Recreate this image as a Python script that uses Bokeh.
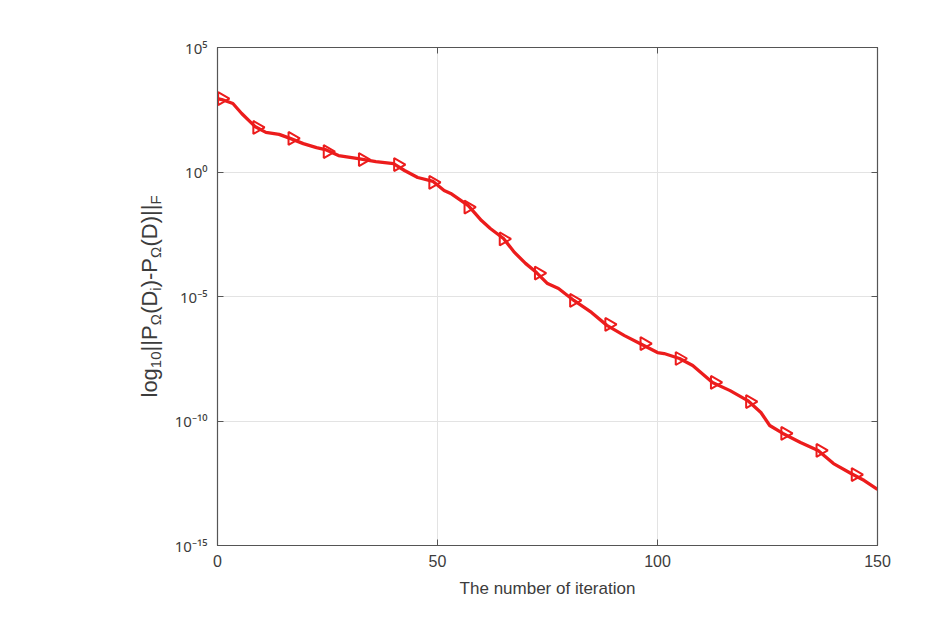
import numpy as np
from bokeh.plotting import figure
from bokeh.layouts import row
from bokeh.models import LinearAxis, FixedTicker, CustomJSTickFormatter
from bokeh.core.properties import value
from bokeh.embed import file_html
from bokeh.resources import INLINE

# ---- data (values are log10 of the error) ----
line_iter = [0, 1, 3.5, 5.5, 8.5, 11, 14, 16.5, 19.5, 22.5, 24.5, 27.5, 32, 36, 40,
             42.5, 45.5, 49, 51.5, 53, 57, 60, 62, 65, 67.5, 70, 72.5, 75, 77.5, 81,
             85, 88.5, 92.5, 96, 100, 101.5, 105, 108, 112.5, 116.5, 120.5, 123.5,
             125.5, 128.5, 132.5, 136.5, 140, 144, 147, 150]
line_log_err = [2.95, 2.91, 2.75, 2.35, 1.83, 1.59, 1.51, 1.35, 1.14, 0.98, 0.90, 0.66,
                0.54, 0.42, 0.34, 0.06, -0.22, -0.38, -0.74, -0.86, -1.35, -1.95, -2.27,
                -2.67, -3.23, -3.67, -4.04, -4.48, -4.68, -5.16, -5.64, -6.16, -6.57,
                -6.89, -7.25, -7.29, -7.49, -7.77, -8.45, -8.78, -9.18, -9.66, -10.18,
                -10.50, -10.86, -11.18, -11.71, -12.11, -12.39, -12.75]
marker_iter = [1, 9, 17, 25, 33, 41, 49, 57, 65, 73, 81, 89, 97, 105, 113, 121, 129, 137, 145]
marker_log_err = [2.95, 1.79, 1.35, 0.82, 0.50, 0.30, -0.42, -1.41, -2.69, -4.06, -5.16,
                  -6.12, -6.89, -7.49, -8.45, -9.22, -10.50, -11.18, -12.15]
x_ticks = [0, 50, 100, 150]
y_ticks = [-15, -10, -5, 0, 5]
y_tick_labels = ["10\u207b\u00b9\u2075", "10\u207b\u00b9\u2070", "10\u207b\u2075", "10\u2070", "10\u2075"]
y_label_parts = ["log", "10", "||P", "\u03a9", "(D", "i", ")-P", "\u03a9", "(D)||", "F"]
y_label_is_sub = [False, True, False, True, False, True, False, True, False, True]

RED = "#ec1c1c"
AX = "#555555"
TXT = "#3c3c3c"
FONT = "Liberation Sans"
blank = CustomJSTickFormatter(code="return ''")

LEFT_W = 165
TOP_B, BOT_B, FRAME_H = 47, 74, 498
PX_PER_UNIT = FRAME_H / 20.0

# ---- left panel: rotated y label with subscripts ----
pl = figure(width=LEFT_W, height=619, frame_width=LEFT_W, frame_height=FRAME_H, title=None,
            x_range=(0, LEFT_W), y_range=(-15, 5),
            min_border_left=0, min_border_right=0, min_border_top=TOP_B, min_border_bottom=BOT_B,
            x_axis_location=None, y_axis_location=None,
            output_backend="svg", toolbar_location=None)
pl.outline_line_color = None
pl.xgrid.visible = False
pl.ygrid.visible = False
pl.background_fill_color = "white"
pl.border_fill_color = "white"

F, S = 22, 15
widths = {"log": 1.334, "10": 1.112, "||P": 1.187, "\u03a9": 0.768, "(D": 1.055,
          "i": 0.222, ")-P": 1.333, "(D)||": 1.908, "F": 0.611}
base_x = 149
ypix = 397  # canvas y of the label start
xs, ys, txts, sizes = [], [], [], []
for part, sub in zip(y_label_parts, y_label_is_sub):
    size = S if sub else F
    xs.append(base_x + (6 if sub else 0))
    ys.append(5 - (ypix - TOP_B) / PX_PER_UNIT)
    txts.append(part)
    sizes.append(f"{size}px")
    ypix -= widths[part] * size
pl.text(x=xs, y=ys, text=txts, angle=np.pi / 2, text_align="left", text_baseline="alphabetic",
        text_font=value(FONT), text_font_size=sizes, text_color=TXT)

# ---- main plot ----
p = figure(width=951 - LEFT_W, height=619, frame_width=660, frame_height=FRAME_H,
           x_range=(0, 150), y_range=(-15, 5),
           min_border_left=217 - LEFT_W, min_border_right=74, min_border_top=TOP_B,
           min_border_bottom=BOT_B, output_backend="svg", toolbar_location=None)
p.background_fill_color = "white"
p.border_fill_color = "white"
p.outline_line_color = AX
p.outline_line_width = 1.2

p.line(line_iter, line_log_err, color=RED, line_width=3.3)
p.scatter(marker_iter, marker_log_err, marker="triangle", angle=-np.pi / 2,
          size=13, fill_color=None, line_color=RED, line_width=2)

for ax in (p.xaxis[0], p.yaxis[0]):
    ax.major_tick_in = 6
    ax.major_tick_out = 0
    ax.minor_tick_line_color = None
    ax.axis_line_color = AX
    ax.major_tick_line_color = AX
    ax.major_label_text_font = FONT
    ax.major_label_text_color = TXT
    ax.major_label_text_font_size = "16px"

p.xaxis.ticker = FixedTicker(ticks=x_ticks)
p.yaxis.ticker = FixedTicker(ticks=y_ticks)
p.yaxis.major_label_overrides = {t: s for t, s in zip(y_ticks, y_tick_labels)}
p.yaxis.major_label_text_font = "Noto Sans"
p.yaxis.major_label_text_font_size = "15px"
p.yaxis.major_label_standoff = 10
p.xaxis.major_label_standoff = 9

p.xaxis.axis_label = "The number of iteration"
p.xaxis.axis_label_text_font = FONT
p.xaxis.axis_label_text_font_style = "normal"
p.xaxis.axis_label_text_font_size = "17px"
p.xaxis.axis_label_text_color = TXT
p.xaxis.axis_label_standoff = 9

top = LinearAxis(ticker=FixedTicker(ticks=x_ticks), formatter=blank, major_tick_in=6,
                 major_tick_out=0, major_label_standoff=0, minor_tick_line_color=None,
                 axis_line_color=AX, major_tick_line_color=AX)
right = LinearAxis(ticker=FixedTicker(ticks=y_ticks), formatter=blank, major_tick_in=6,
                   major_tick_out=0, major_label_standoff=0, minor_tick_line_color=None,
                   axis_line_color=AX, major_tick_line_color=AX)
p.add_layout(top, "above")
p.add_layout(right, "right")

p.xgrid.grid_line_color = "#e3e3e3"
p.ygrid.grid_line_color = "#e3e3e3"

layout = row(pl, p, spacing=0)
open("out.html", "w").write(file_html(layout, INLINE))
